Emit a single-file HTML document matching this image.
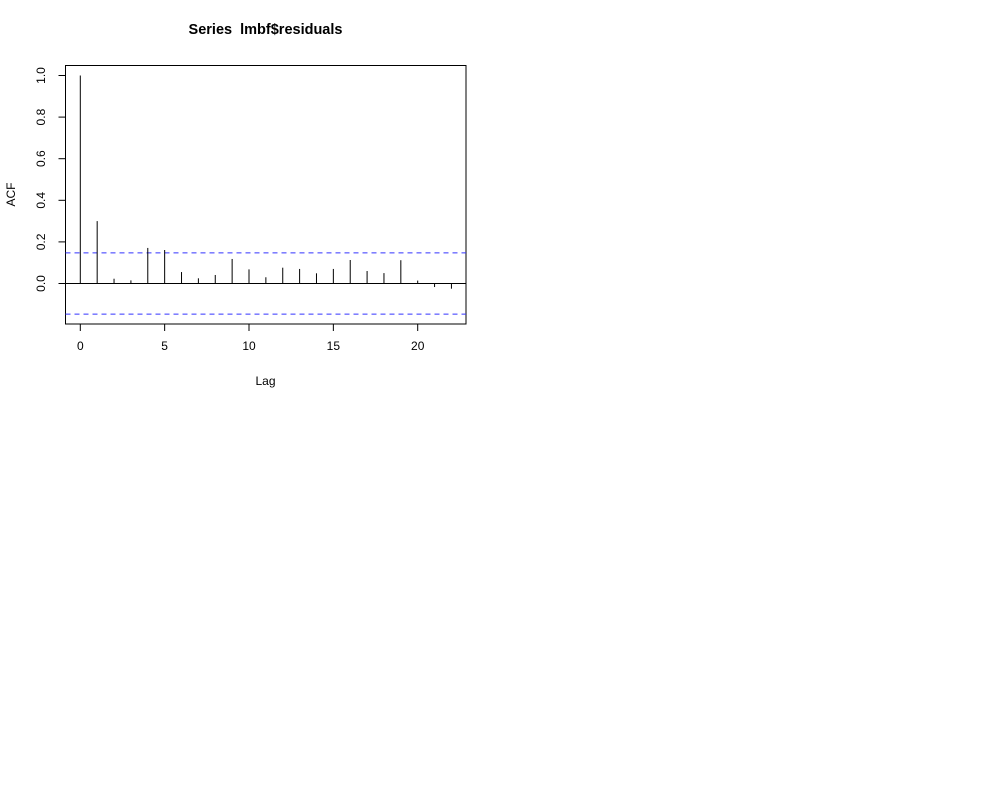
<!DOCTYPE html>
<html><head><meta charset="utf-8">
<style>
html,body{margin:0;padding:0;background:#fff;}
svg{display:block;font-family:"Liberation Sans",Arial,sans-serif;}
</style></head>
<body>
<svg id="chart" width="1000" height="810" viewBox="0 0 1000 810">
<text x="265.5" y="34" text-anchor="middle" font-size="14.5" font-weight="bold" style="white-space:pre" xml:space="preserve">Series  lmbf$residuals</text>
<rect x="65.5" y="65.5" width="400.5" height="258.5" fill="none" stroke="#000" stroke-width="1"/>
<text x="265.5" y="385" text-anchor="middle" font-size="12">Lag</text>
<text transform="translate(15,194.5) rotate(-90)" text-anchor="middle" font-size="12">ACF</text>
<g id="marks"></g>
</svg>
<script>
const lags = [0,1,2,3,4,5,6,7,8,9,10,11,12,13,14,15,16,17,18,19,20,21,22];
const acfValues = [1.0,0.30,0.023,0.015,0.171,0.161,0.055,0.025,0.041,0.118,0.068,0.030,0.076,0.070,0.049,0.070,0.113,0.060,0.050,0.112,0.014,-0.017,-0.025];
const ciBound = [0.147];
const xTicks = [0,5,10,15,20];
const yTicks = [0.0,0.2,0.4,0.6,0.8,1.0];
const yTickLabels = ["0.0","0.2","0.4","0.6","0.8","1.0"];

const X = v => 80.3 + v*16.87;
const Y = v => 283.5 - v*208;
const NS = "http://www.w3.org/2000/svg";
const g = document.getElementById('marks');
function mk(tag, attrs){const e=document.createElementNS(NS,tag);for(const k in attrs)e.setAttribute(k,attrs[k]);g.appendChild(e);return e;}

let z = mk('line',{x1:65.5,x2:466,y1:Y(0),y2:Y(0),stroke:'#000','stroke-width':1});



[ciBound[0], -ciBound[0]].forEach((c,i)=>{
  const l = mk('line',{x1:65.5,x2:466,y1:Y(c),y2:Y(c),stroke:'#3333ff','stroke-width':1,'stroke-dasharray':'5,4'});
  
  
});

lags.forEach((lag,i)=>{
  const l = mk('line',{x1:X(lag),x2:X(lag),y1:Y(0),y2:Y(acfValues[i]),stroke:'#000','stroke-width':1});
  
  
});

xTicks.forEach(t=>{
  const l = mk('line',{x1:X(t),x2:X(t),y1:324,y2:331,stroke:'#000','stroke-width':1});
  
  
  const tx = mk('text',{x:X(t),y:350,'text-anchor':'middle','font-size':12});
  tx.textContent = String(t);
  
  
});

yTicks.forEach((t,i)=>{
  const y = Y(t);
  const l = mk('line',{x1:58.5,x2:65.5,y1:y,y2:y,stroke:'#000','stroke-width':1});
  
  
  const tx = mk('text',{transform:'translate(45,'+y+') rotate(-90)','text-anchor':'middle','font-size':12});
  tx.textContent = yTickLabels[i];
  
  
});
</script>
</body></html>
